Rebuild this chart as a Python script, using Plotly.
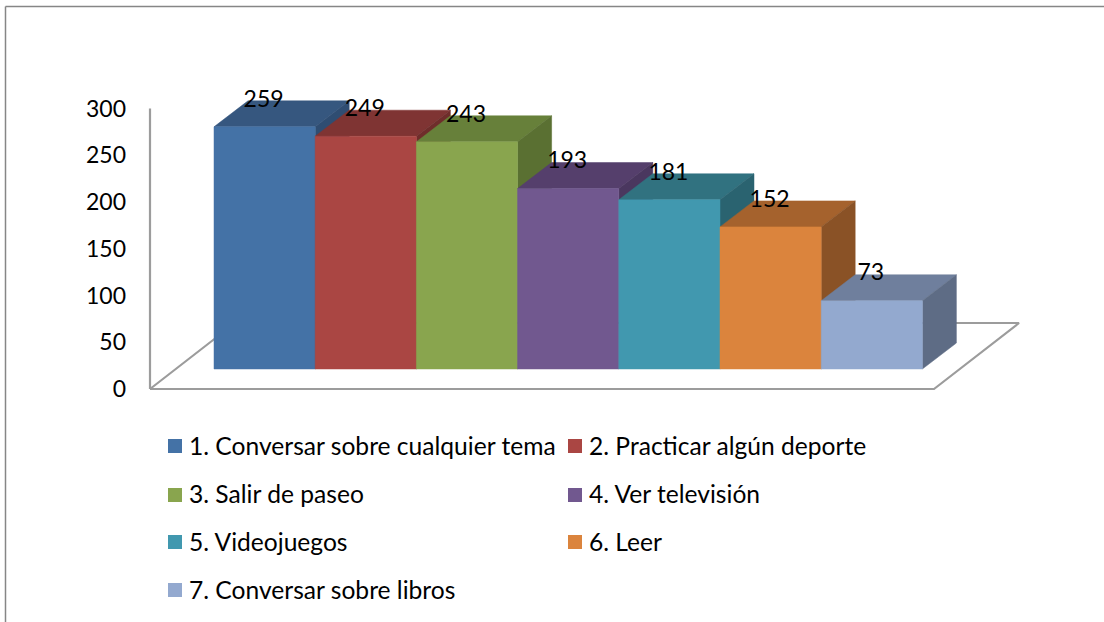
import plotly.graph_objects as go

categories = [
    "1. Conversar sobre cualquier tema",
    "2. Practicar algún deporte",
    "3. Salir de paseo",
    "4. Ver televisión",
    "5. Videojuegos",
    "6. Leer",
    "7. Conversar sobre libros",
]
values = [259, 249, 243, 193, 181, 152, 73]
y_ticks = [0, 50, 100, 150, 200, 250, 300]

front_colors = ["#4472A6", "#AA4643", "#89A54E", "#71588F", "#4198AF", "#DB843D", "#93A9CF"]
top_colors = ["#36577F", "#7F3433", "#67803A", "#553F6C", "#317280", "#A5622D", "#6F7F9D"]
side_colors = ["#2F4D72", "#6F2D2B", "#5A7032", "#4A375F", "#2A6370", "#8A5226", "#5E6C85"]

W, H = 1104, 622
FONT = "Lato"
FONT_SIZE = 23
LEGEND_SIZE = 24.6
AXIS_COLOR = "#9C9C9C"

# the whole page is one plot: x runs in page pixels, y in chart units
K = 0.935            # pixels per unit
FLOOR_Y = 389        # page y of value 0
BAR_LEFT = 214
BAR_W = 101.2
BAR_BASE = 20 / K    # the bars stand on the floor, a bit behind its front edge
DX = 34              # depth of a bar
DY = 26 / K
FLOOR_DX = 85
FLOOR_DY = 66 / K
FLOOR_W = 784


def poly(x, y, color):
    return go.Scatter(x=x, y=y, mode="lines", fill="toself", fillcolor=color,
                      line=dict(color=color, width=0.5), hoverinfo="skip", showlegend=False)


fig = go.Figure()

# wall and floor
x0 = 150
fig.add_trace(go.Scatter(
    x=[x0, x0, None, x0, x0 + FLOOR_W, x0 + FLOOR_W + FLOOR_DX, x0 + FLOOR_DX, x0],
    y=[300, 0, None, 0, 0, FLOOR_DY, FLOOR_DY, 0],
    mode="lines", line=dict(color=AXIS_COLOR, width=2.2), hoverinfo="skip", showlegend=False,
))

# bars, left to right, each one hides the side of the one before
for i, v in enumerate(values):
    l = BAR_LEFT + i * BAR_W
    r = l + BAR_W
    b = BAR_BASE
    t = BAR_BASE + v
    fig.add_trace(poly([l, l + DX, r + DX, r, l], [t, t + DY, t + DY, t, t], top_colors[i]))
    fig.add_trace(poly([r, r + DX, r + DX, r, r], [b, b + DY, t + DY, t, b], side_colors[i]))
    fig.add_trace(poly([l, r, r, l, l], [b, b, t, t, b], front_colors[i]))

# value labels sit on the back edge of each top
fig.add_trace(go.Scatter(
    x=[BAR_LEFT + (i + 0.5) * BAR_W - 1 for i in range(len(values))],
    y=[BAR_BASE + v + DY for v in values],
    mode="text", text=[str(v) for v in values], textposition="middle center",
    textfont=dict(family=FONT, size=FONT_SIZE, color="#000000"),
    hoverinfo="skip", showlegend=False,
))

# legend in two columns
legend_cols = [168, 568]
legend_rows = [446, 495, 542, 590]
for i, name in enumerate(categories):
    kx = legend_cols[i % 2]
    ky = legend_rows[i // 2]
    fig.add_shape(type="rect", xref="paper", yref="paper",
                  x0=kx / W, x1=(kx + 14) / W, y0=1 - (ky + 7) / H, y1=1 - (ky - 7) / H,
                  fillcolor=front_colors[i], line_width=0)
    fig.add_annotation(xref="paper", yref="paper", x=(kx + 19) / W, y=1 - (ky - 1) / H,
                       text=name, showarrow=False, xanchor="left", yanchor="middle",
                       font=dict(family=FONT, size=LEGEND_SIZE, color="#000000"))

# picture frame, only the top and left edges show
fig.add_shape(type="line", xref="paper", yref="paper", x0=5.5 / W, x1=5.5 / W, y0=0, y1=1 - 6.5 / H,
              line=dict(color="#868686", width=1.5))
fig.add_shape(type="line", xref="paper", yref="paper", x0=5.5 / W, x1=1, y0=1 - 6.5 / H, y1=1 - 6.5 / H,
              line=dict(color="#868686", width=1.5))

fig.update_layout(
    width=W, height=H,
    margin=dict(l=0, r=0, t=0, b=0),
    paper_bgcolor="#FFFFFF", plot_bgcolor="#FFFFFF",
    showlegend=False,
    xaxis=dict(range=[0, W], visible=False),
    yaxis=dict(
        range=[(FLOOR_Y - H) / K, FLOOR_Y / K],
        anchor="free", position=150 / W,
        tickvals=y_ticks, ticktext=[str(t) for t in y_ticks],
        ticks="", ticklabelstandoff=24,
        tickfont=dict(family=FONT, size=FONT_SIZE, color="#000000"),
        showgrid=False, zeroline=False, showline=False,
    ),
)

# the page's default body margin would push the chart 8px in
fig.write_html("out.html", config={"displayModeBar": False},
               post_script="document.body.style.margin='0';document.body.style.overflow='hidden';")
